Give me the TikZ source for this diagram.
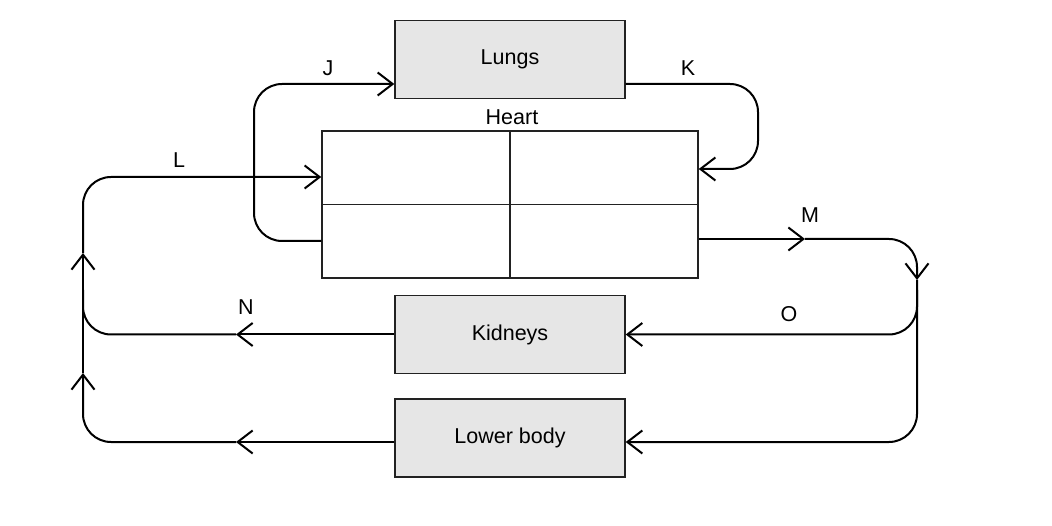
\documentclass[tikz,border=0pt]{standalone}
\usepackage{fontspec}
\setmainfont{Liberation Sans}
\usetikzlibrary{arrows.meta}
\definecolor{boxfill}{HTML}{E6E6E6}
\definecolor{edge}{HTML}{222222}
\tikzset{
  organ/.style={draw=edge, fill=boxfill, line width=1.4pt, minimum width=230pt, minimum height=78pt, inner sep=0pt, font=\fontsize{21.5}{25}\selectfont},
  heartbox/.style={draw=edge, line width=1.5pt, minimum width=376pt, minimum height=147pt, inner sep=0pt},
  flow/.style={line width=2pt, draw=black, rounded corners=28pt},
  tipd/.style={-{Straight Barb[length=15pt,width=23pt,line width=2pt]}},
  lbl/.style={font=\fontsize{21.5}{25}\selectfont, inner sep=0pt}
}
\begin{document}
\begin{tikzpicture}[x=1pt,y=-1pt]
\useasboundingbox (0,0) rectangle (1052,526);
% boxes
\node[organ] (lungs) at (510,59.5) {Lungs};
\node[organ] (kidneys) at (510,334.5) {Kidneys};
\node[organ] (lower) at (510,437.8) {Lower body};
\node[heartbox] (heart) at (510,204.5) {};
\draw[edge, line width=1.6pt] (heart.north) -- (heart.south);
\draw[edge, line width=1.6pt] (heart.west) -- (heart.east);
\node[lbl] (heartlbl) at (512,117) {Heart};
% labels
\node[lbl] (lj) at (328,68) {J};
\node[lbl] (lk) at (688,68) {K};
\node[lbl] (ll) at (179,160) {L};
\node[lbl] (lm) at (810,215) {M};
\node[lbl] (ln) at (246,307) {N};
\node[lbl] (lo) at (789,314) {O};
% coordinates
\coordinate (jstart) at ([yshift=-36.5pt]heart.west);
\coordinate (jend) at ([yshift=-24.5pt]lungs.west);
\coordinate (kstart) at ([yshift=-24.5pt]lungs.east);
\coordinate (kend) at ([yshift=35.5pt]heart.east);
\coordinate (lend) at ([yshift=27.5pt]heart.west);
\coordinate (mstart) at ([yshift=-34.5pt]heart.east);
\coordinate (mmid) at (805,239);
\coordinate (rdown) at (917,280);
\coordinate (ojoin) at (917,290);
\coordinate (lbend) at ([yshift=-4.2pt]lower.east);
\coordinate (lbstart) at ([yshift=-4.2pt]lower.west);
\coordinate (lbmid) at (236,442);
\coordinate (nmid) at (236,334.5);
\coordinate (lup1) at (83,373);
\coordinate (lup2) at (83,253);
\coordinate (njoin) at (83,290);
% J
\draw[flow,tipd] (jstart) -- (254,241) -- (254,84) -- (jend);
% K
\draw[flow,tipd] (kstart) -- (758,84) -- (758,169) -- (kend);
% M
\draw[flow,tipd] (mstart) -- (mmid);
\draw[flow,tipd] (mmid) -| (rdown);
\draw[flow,tipd] (rdown) |- (lbend);
% O
\draw[flow,tipd] (ojoin) |- (kidneys.east);
% lower body return
\draw[flow,tipd] (lbstart) -- (lbmid);
\draw[flow,tipd] (lbmid) -| (lup1);
\draw[flow,tipd] (lup1) -- (lup2);
\draw[flow,tipd] (lup2) |- (lend);
% N
\draw[flow,tipd] (kidneys.west) -- (nmid);
\draw[flow] (nmid) -| (njoin);
\end{tikzpicture}
\end{document}
